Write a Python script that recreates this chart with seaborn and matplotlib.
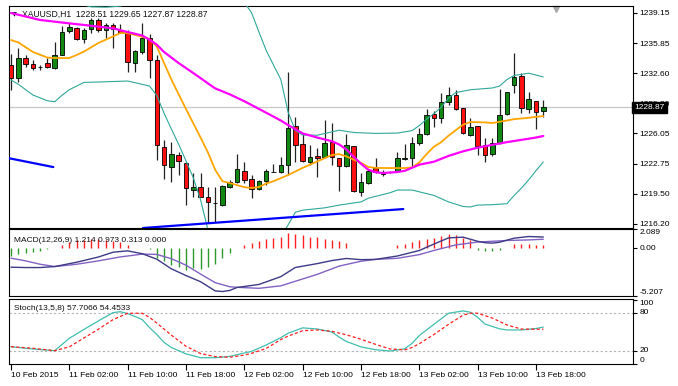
import matplotlib
matplotlib.use('Agg')
import matplotlib.pyplot as plt
import matplotlib.transforms as mtransforms
import numpy as np
import seaborn as sns

# ---- candles (XAUUSD H1, bar 0 = 10 Feb 18:00) ----
opens = [1233.49, 1232.08, 1234.25, 1233.60, 1233.22, 1233.71, 1233.17, 1234.58, 1237.19, 1237.52,
         1236.32, 1237.41, 1238.44, 1237.35, 1237.84, 1237.30, 1237.08, 1233.76, 1234.96, 1236.43,
         1234.04, 1224.57, 1222.39, 1223.70, 1222.83, 1219.89, 1220.27, 1219.13, 1218.48, 1218.26,
         1220.22, 1220.76, 1221.96, 1221.09, 1220.00, 1220.87, 1221.85, 1221.85, 1222.61, 1226.85,
         1224.90, 1222.94, 1223.59, 1223.48, 1225.11, 1223.37, 1222.50, 1224.68, 1219.67, 1220.65,
         1222.28, 1221.85, 1221.80, 1221.96, 1223.32, 1223.37, 1225.00, 1225.98, 1228.16, 1227.72,
         1229.47, 1230.23, 1228.81, 1225.88, 1226.85, 1224.79, 1223.81, 1225.00, 1228.16, 1231.32,
         1232.30, 1228.70, 1229.57, 1228.51]
highs = [1234.69, 1235.34, 1234.58, 1234.04, 1233.49, 1234.25, 1235.99, 1237.74, 1238.06, 1237.60,
         1237.52, 1238.61, 1238.61, 1238.06, 1238.06, 1237.90, 1237.30, 1235.07, 1238.06, 1236.86,
         1234.58, 1225.33, 1225.11, 1224.02, 1222.90, 1221.74, 1221.74, 1220.22, 1220.22, 1220.40,
         1220.98, 1223.81, 1222.94, 1221.52, 1220.98, 1222.17, 1222.72, 1223.48, 1232.73, 1227.83,
         1226.09, 1224.79, 1224.46, 1227.51, 1227.18, 1223.40, 1225.98, 1224.70, 1221.74, 1222.06,
         1223.37, 1222.06, 1221.96, 1224.02, 1224.90, 1225.66, 1226.64, 1228.70, 1228.49, 1230.45,
         1231.10, 1230.77, 1228.85, 1227.72, 1226.90, 1225.55, 1225.55, 1230.88, 1230.60, 1234.80,
         1232.62, 1230.55, 1229.60, 1229.65]
lows = [1230.77, 1231.64, 1233.27, 1232.95, 1232.90, 1233.17, 1233.10, 1234.58, 1236.97, 1236.25,
        1235.89, 1236.97, 1237.08, 1236.43, 1235.34, 1236.97, 1232.73, 1232.73, 1234.69, 1232.08,
        1223.15, 1221.09, 1220.76, 1221.52, 1218.26, 1219.13, 1219.10, 1216.30, 1216.41, 1218.15,
        1220.11, 1220.70, 1220.65, 1219.02, 1219.89, 1220.43, 1221.80, 1221.74, 1221.52, 1222.94,
        1222.94, 1222.61, 1221.30, 1223.37, 1222.61, 1219.78, 1222.39, 1219.67, 1219.24, 1220.54,
        1221.74, 1221.41, 1221.74, 1221.85, 1223.15, 1222.50, 1224.79, 1225.88, 1226.75, 1227.18,
        1229.14, 1228.60, 1225.98, 1225.77, 1223.70, 1222.94, 1223.59, 1224.95, 1228.05, 1230.45,
        1228.27, 1228.27, 1226.53, 1227.87]
closes = [1232.08, 1234.25, 1233.60, 1233.17, 1233.27, 1233.27, 1234.58, 1237.08, 1237.63, 1236.32,
          1237.30, 1238.39, 1237.25, 1237.84, 1237.41, 1237.08, 1233.82, 1235.02, 1236.38, 1234.04,
          1224.79, 1222.61, 1223.81, 1223.04, 1220.11, 1220.27, 1219.13, 1218.59, 1218.52, 1220.33,
          1220.76, 1222.17, 1220.98, 1220.00, 1220.87, 1221.96, 1221.90, 1222.61, 1226.64, 1224.79,
          1223.04, 1223.48, 1223.37, 1225.00, 1223.48, 1222.50, 1224.79, 1219.78, 1220.76, 1221.96,
          1221.85, 1221.63, 1221.85, 1223.37, 1223.37, 1225.00, 1225.98, 1228.05, 1227.72, 1229.47,
          1230.23, 1228.70, 1226.09, 1226.75, 1224.68, 1223.70, 1225.00, 1228.05, 1230.55, 1232.19,
          1228.81, 1229.79, 1228.38, 1228.87]

time_ticks = [0, 8, 16, 24, 32, 40, 48, 56, 64, 72]
time_labels = ['10 Feb 2015', '11 Feb 02:00', '11 Feb 10:00', '11 Feb 18:00', '12 Feb 02:00',
               '12 Feb 10:00', '12 Feb 18:00', '13 Feb 02:00', '13 Feb 10:00', '13 Feb 18:00']
price_ticks = [1239.15, 1235.85, 1232.60, 1229.30, 1226.05, 1222.75, 1219.50, 1216.20]

# ---- main panel indicators (bar index, price) ----
fast_ma_idx = [0, 1, 3, 5, 6, 8, 9, 10, 12, 14, 15, 16, 18, 19, 20, 22, 24, 26, 27, 28, 29, 30, 32, 33,
               34, 35, 36, 38, 40, 42, 43, 44, 45, 46, 47, 48, 49, 50, 52, 54, 55, 56, 57, 58, 59, 60,
               61, 62, 63, 65, 66, 68, 69, 71, 72, 73]
fast_ma = [1236.21, 1235.95, 1234.91, 1234.30, 1234.25, 1234.25, 1234.58, 1234.95, 1235.89, 1236.60,
           1236.97, 1236.97, 1236.55, 1236.30, 1235.50, 1231.90, 1228.70, 1225.60, 1224.00, 1222.10,
           1220.85, 1220.65, 1220.20, 1220.11, 1220.22, 1220.60, 1220.85, 1221.52, 1222.30, 1223.00,
           1223.35, 1223.70, 1223.80, 1223.55, 1223.20, 1222.85, 1222.40, 1222.30, 1222.28, 1222.28,
           1222.35, 1222.90, 1223.80, 1224.60, 1225.10, 1225.80, 1226.40, 1227.00, 1227.29, 1227.25,
           1227.18, 1227.45, 1227.60, 1227.75, 1227.85, 1227.94]
slow_ma_idx = [0, 4, 8, 10, 14, 16, 18, 19, 20, 21, 23, 25, 27, 28, 30, 32, 35, 37, 38, 40, 42, 44, 45,
               46, 47, 48, 49, 50, 51, 53, 54, 56, 58, 60, 62, 64, 66, 68, 70, 72, 73]
slow_ma = [1239.15, 1238.39, 1238.02, 1237.85, 1237.48, 1237.08, 1236.70, 1236.25, 1235.70, 1234.90,
           1233.70, 1232.62, 1231.50, 1230.95, 1230.30, 1229.55, 1228.30, 1227.45, 1226.96, 1226.05,
           1225.60, 1225.20, 1224.85, 1224.30, 1223.50, 1222.75, 1222.10, 1221.83, 1221.74, 1221.85,
           1221.98, 1222.65, 1222.97, 1223.60, 1224.10, 1224.50, 1224.80, 1225.10, 1225.35, 1225.60,
           1225.77]
bb_up_idx = [0, 5, 9, 11, 13, 15, 18, 22, 26, 29, 31, 32, 33, 34, 35, 36, 37, 38, 39, 40, 42, 45, 47,
             50, 53, 55, 56, 57, 58, 59, 60, 61, 63, 66, 67, 68, 69, 71, 72, 73]
bb_up = [1241.80, 1241.00, 1240.20, 1239.82, 1239.78, 1239.90, 1240.60, 1241.80, 1242.50, 1242.00,
         1241.00, 1240.30, 1239.17, 1237.08, 1235.08, 1233.49, 1231.93, 1228.38, 1226.35, 1225.88,
         1225.85, 1226.40, 1226.15, 1226.05, 1226.09, 1226.35, 1226.90, 1227.60, 1228.20, 1228.90,
         1229.90, 1230.50, 1230.80, 1230.99, 1231.20, 1231.90, 1232.35, 1232.60, 1232.40, 1232.19]
bb_lo_idx = [0, 1, 3, 5, 6, 7, 8, 10, 12, 16, 19, 20, 21, 22, 23, 24, 25, 26, 27, 28, 30, 33, 36, 37,
             38, 39, 40, 43, 45, 48, 49, 52, 53, 55, 57, 58, 60, 62, 63, 64, 66, 68, 69, 70, 71, 72, 73]
bb_lo = [1231.86, 1231.40, 1230.23, 1229.60, 1229.50, 1230.20, 1230.80, 1231.60, 1231.64, 1231.75,
         1231.20, 1230.17, 1228.24, 1226.52, 1224.86, 1223.06, 1221.23, 1218.82, 1215.60, 1214.30,
         1213.20, 1212.80, 1213.80, 1214.80, 1216.09, 1217.48, 1217.70, 1217.95, 1218.25, 1218.60,
         1219.00, 1219.60, 1219.89, 1219.89, 1219.50, 1219.30, 1218.60, 1218.10, 1218.05, 1218.25,
         1218.30, 1218.40, 1219.30, 1220.10, 1221.00, 1222.00, 1222.94]

# trend lines (bar index, price)
trend1_idx = [-0.4, 5.8]
trend1 = [1223.37, 1222.39]
trend2_idx = [18.1, 53.8]
trend2 = [1215.76, 1217.82]

# ---- MACD panel ----
macd_hist = [-0.9, -0.65, -0.55, -0.45, -0.3, -0.12, 0, 0.36, 0.65, 0.84,
             0.9, 1.0, 0.98, 0.9, 0.8, 0.65, 0.3, 0.07, 0, -0.05,
             -1.1, -1.45, -1.8, -2.1, -2.35, -2.2, -2.25, -2.1, -1.75, -1.1,
             -0.55, 0, 0.3, 0.55, 0.8, 1.0, 1.15, 1.27, 1.64, 1.56,
             1.45, 1.27, 1.2, 1.0, 0.9, 0.8, 0.55, 0.07, 0.07, 0.07,
             0, 0, 0.07, 0.3, 0.44, 0.65, 0.9, 1.0, 1.15, 1.38,
             1.53, 1.45, 1.15, 0.9, -0.18, -0.3, -0.36, -0.25, 0, 0.44,
             0.44, 0.44, 0.36, 0.31]
macd_idx = [0, 2, 4, 6, 9, 12, 14, 16, 17, 18, 20, 22, 24, 26, 28, 29, 30, 31, 34, 37, 39, 42, 44, 46,
            48, 50, 53, 56, 58, 60, 62, 64, 65, 66, 67, 69, 71, 73]
macd_main = [-2.07, -2.11, -2.11, -2.0, -1.53, -0.96, -0.44, -0.29, -0.45, -0.6, -1.2, -2.25, -2.98,
             -3.65, -4.65, -4.72, -4.6, -4.28, -3.95, -3.1, -2.1, -1.68, -1.35, -1.12, -1.25, -1.22,
             -0.85, -0.25, 0.45, 1.12, 1.2, 0.75, 0.6, 0.55, 0.65, 1.09, 1.27, 1.214]
signal_idx = [0, 2, 4, 6, 9, 12, 15, 17, 18, 20, 22, 24, 26, 28, 30, 31, 34, 37, 40, 42, 45, 48, 50,
              53, 56, 58, 61, 64, 66, 68, 71, 73]
macd_signal = [-1.09, -1.38, -1.75, -2.0, -1.75, -1.38, -0.95, -0.75, -0.64, -0.68, -1.15, -1.85,
               -2.82, -3.75, -4.2, -4.26, -4.37, -4.1, -3.35, -2.85, -1.95, -1.42, -1.22, -1.1, -0.7,
               -0.25, 0.36, 0.67, 0.75, 0.84, 0.9, 0.973]
macd_ticks = [2.089, 0.0, -5.207]
macd_tick_labels = ['2.089', '0.00', '-5.207']

# ---- Stochastic panel ----
k_idx = [0, 3, 6, 8, 10, 12, 14, 15, 16, 17, 18, 19, 20, 21, 22, 24, 26, 28, 30, 33, 35, 37, 38, 40,
         42, 44, 45, 46, 48, 50, 52, 54, 55, 56, 58, 60, 62, 63, 64, 65, 67, 68, 70, 72, 73]
stoch_k = [26.8, 23.2, 20.5, 40.0, 54.0, 67.5, 80.5, 82.0, 79.0, 74.5, 69.5, 57.0, 46.0, 33.5, 25.5,
           15.5, 9.4, 9.4, 11.5, 19.5, 29.5, 41.0, 48.0, 56.5, 54.7, 50.0, 42.0, 35.0, 26.5, 22.0,
           20.0, 23.5, 32.0, 44.5, 62.0, 79.5, 83.2, 81.1, 73.0, 62.5, 55.0, 53.2, 53.2, 55.5, 57.7066]
d_idx = [0, 3, 6, 8, 10, 12, 14, 16, 18, 19, 20, 21, 22, 24, 26, 28, 30, 32, 33, 35, 37, 38, 40, 42,
         44, 46, 48, 50, 52, 54, 55, 56, 58, 60, 62, 63, 64, 66, 68, 70, 72, 73]
stoch_d = [26.8, 24.3, 20.5, 26.5, 40.5, 54.5, 69.5, 79.5, 79.5, 73.0, 64.0, 54.5, 45.0, 27.5, 16.0,
           11.2, 10.2, 13.5, 16.4, 24.0, 38.0, 43.5, 52.0, 53.2, 51.0, 45.5, 38.5, 30.5, 23.2, 21.8,
           25.5, 31.5, 46.0, 62.0, 76.5, 79.5, 79.5, 72.0, 61.1, 54.6, 54.3, 54.4533]
stoch_ticks = [100, 80, 20, 0]

sns.set_style('white')
plt.rcParams['font.family'] = ['Liberation Sans', 'DejaVu Sans']
plt.rcParams['axes.linewidth'] = 0.8

W, H = 678, 386
fig = plt.figure(figsize=(W / 100, H / 100), dpi=100)
left, width = 9 / W, 624 / W
ax_main = fig.add_axes([left, (H - 228) / H, width, 222 / H])
ax_macd = fig.add_axes([left, (H - 296) / H, width, 67 / H])
ax_sto = fig.add_axes([left, (H - 364) / H, width, 65 / H])

idx = np.arange(len(closes))
o = np.array(opens)
c = np.array(closes)
xlim = (-0.27, 85.3)

# ========== main price panel ==========
ax = ax_main
ax.axhline(closes[-1], color='#c8c8c8', lw=0.9, zorder=1)
ax.vlines(idx, lows, highs, color='#222222', lw=0.9, zorder=2)
body_col = np.where(c >= o, '#118811', '#ff1010')
ax.bar(idx, np.abs(c - o), bottom=np.minimum(o, c), width=0.62, color=body_col,
       edgecolor='black', linewidth=0.6, zorder=3)

sns.lineplot(x=bb_up_idx, y=bb_up, ax=ax, color='#2fa89a', linewidth=0.8, zorder=4)
sns.lineplot(x=bb_lo_idx, y=bb_lo, ax=ax, color='#2fa89a', linewidth=0.8, zorder=4)
sns.lineplot(x=fast_ma_idx, y=fast_ma, ax=ax, color='#ffa500', linewidth=1.3, zorder=5)
sns.lineplot(x=slow_ma_idx, y=slow_ma, ax=ax, color='#ff00ff', linewidth=1.6, zorder=5)
sns.lineplot(x=trend1_idx, y=trend1, ax=ax, color='#0000ff', linewidth=1.6, zorder=5)
sns.lineplot(x=trend2_idx, y=trend2, ax=ax, color='#0000ff', linewidth=1.6, zorder=5)

ax.set_xlim(xlim)
ax.set_ylim(1215.76, 1239.91)
ax.set_xticks([])
ax.yaxis.tick_right()
ax.set_yticks(price_ticks)
ax.set_yticklabels([f'{p:.2f}' for p in price_ticks])
ax.tick_params(axis='y', length=3, width=0.8, pad=1.5, labelsize=6, colors='black')
ax.set_xlabel('')
ax.set_ylabel('')

trans = mtransforms.blended_transform_factory(ax.transAxes, ax.transData)
ax.text(1.002, closes[-1], f'{closes[-1]:.2f}', transform=trans, ha='left', va='center',
        fontsize=6, color='white', zorder=10, clip_on=False,
        bbox=dict(boxstyle='square,pad=0.25', fc='black', ec='black'))

ax.text(0.004, 0.962, '\u25bc', transform=ax.transAxes, fontsize=4.5, color='black',
        family='DejaVu Sans', va='center', ha='left')
ax.text(0.021, 0.962,
        f'XAUUSD,H1  {opens[-1]:.2f} {highs[-1]:.2f} {lows[-1]:.2f} {closes[-1]:.2f}',
        transform=ax.transAxes, fontsize=6.2, color='#111111', va='center', ha='left')
ax.plot([0.876], [0.988], marker='v', color='#a8a8a8', markersize=5, transform=ax.transAxes,
        clip_on=False)

# ========== MACD ==========
ax = ax_macd
h = np.array(macd_hist)
hist_col = np.where(h >= 0, '#ff2020', '#2e9a2e')
ax.vlines(idx, 0, h, colors=hist_col, lw=1.0)
sns.lineplot(x=signal_idx, y=macd_signal, ax=ax, color='#8262c4', linewidth=1.0)
sns.lineplot(x=macd_idx, y=macd_main, ax=ax, color='#3d3a86', linewidth=1.0)
ax.set_xlim(xlim)
ax.set_ylim(-5.207, 2.089)
ax.set_xticks([])
ax.yaxis.tick_right()
ax.set_yticks(macd_ticks)
ax.set_yticklabels(macd_tick_labels)
ax.tick_params(axis='y', length=3, width=0.8, pad=1.5, labelsize=6, colors='black')
for lab, va in zip(ax.get_yticklabels(), ['top', 'center', 'bottom']):
    lab.set_verticalalignment(va)
ax.set_xlabel('')
ax.set_ylabel('')
ax.text(0.008, 0.83, f'MACD(12,26,9) {macd_main[-1]:.3f} {macd_signal[-1]:.3f} {macd_hist[-1] + 0.003:.3f} 0.000',
        transform=ax.transAxes, fontsize=6, color='#111111', va='center', ha='left')

# ========== Stochastic ==========
ax = ax_sto
ax.axhline(80, color='#b4b4b4', lw=0.8, ls=(0, (2, 2)))
ax.axhline(20, color='#b4b4b4', lw=0.8, ls=(0, (2, 2)))
sns.lineplot(x=k_idx, y=stoch_k, ax=ax, color='#3fbfae', linewidth=0.9)
sns.lineplot(x=d_idx, y=stoch_d, ax=ax, color='#ff2020', linewidth=0.9, linestyle=(0, (2.5, 1.8)))
ax.set_xlim(xlim)
ax.set_ylim(-0.5, 102)
ax.yaxis.tick_right()
ax.set_yticks(stoch_ticks)
ax.set_yticklabels([str(v) for v in stoch_ticks])
ax.tick_params(axis='y', length=3, width=0.8, pad=1.5, labelsize=6, colors='black')
for lab, va in zip(ax.get_yticklabels(), ['top', 'center', 'center', 'bottom']):
    lab.set_verticalalignment(va)
ax.set_xticks(time_ticks)
ax.set_xticklabels(time_labels, ha='left')
ax.tick_params(axis='x', length=4, width=0.8, pad=1.5, labelsize=6, colors='black', bottom=True)
ax.set_xlabel('')
ax.set_ylabel('')
ax.text(0.008, 0.86, f'Stoch(13,5,8) {stoch_k[-1]:.4f} {stoch_d[-1]:.4f}',
        transform=ax.transAxes, fontsize=6, color='#111111', va='center', ha='left')

for a in (ax_main, ax_macd, ax_sto):
    for s in a.spines.values():
        s.set_color('black')
        s.set_linewidth(0.8)

fig.savefig('out.png', dpi=100, facecolor='white')
